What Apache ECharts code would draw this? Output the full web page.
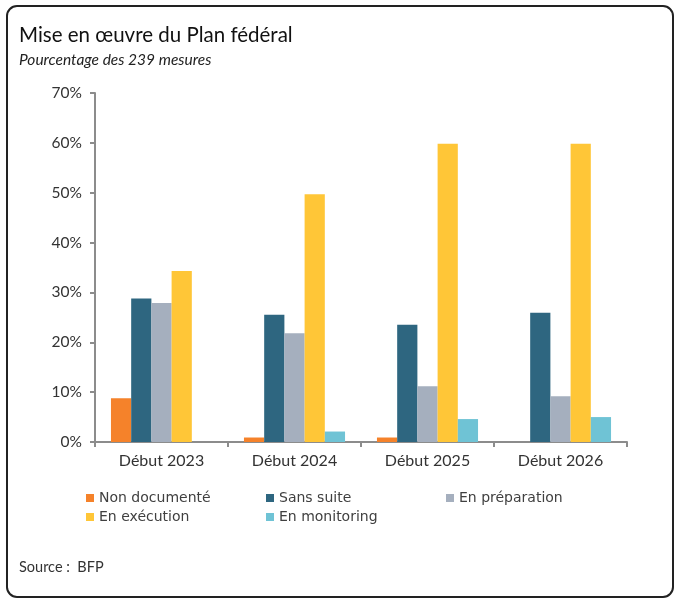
<!DOCTYPE html>
<html>
<head>
<meta charset="utf-8">
<script src="https://cdn.jsdelivr.net/npm/echarts@6/dist/echarts.min.js"></script>
<style>
html, body { margin: 0; padding: 0; background: #fff; }
#main { width: 680px; height: 601px; }
</style>
</head>
<body>
<div id="main"></div>
<script>
var categories = ['Début 2023', 'Début 2024', 'Début 2025', 'Début 2026'];
var nonDocumente = [8.8, 0.9, 0.9, 0];
var sansSuite = [28.8, 25.5, 23.5, 25.9];
var enPreparation = [27.9, 21.8, 11.2, 9.2];
var enExecution = [34.3, 49.7, 59.8, 59.8];
var enMonitoring = [0, 2.1, 4.6, 5.0];
var yTicks = [0, 10, 20, 30, 40, 50, 60, 70];

var myChart = echarts.init(document.getElementById('main'));
var font = 'Lato, "Open Sans", sans-serif';
var legendText = { color: '#404040', fontSize: 14, fontFamily: '"DejaVu Sans", sans-serif' };

function bar(name, data, color) {
    return {
        name: name,
        type: 'bar',
        data: data,
        itemStyle: { color: color },
        barGap: '0%',
        barCategoryGap: '24%'
    };
}

var option = {
    animation: false,
    title: [{
        text: 'Mise en œuvre du Plan fédéral',
        left: 14, top: 20,
        textStyle: { fontFamily: font, fontSize: 20.5, fontWeight: 'normal', color: '#111' }
    }, {
        text: 'Pourcentage des 239 mesures',
        left: 14, top: 47,
        textStyle: { fontFamily: font, fontSize: 15.5, fontStyle: 'italic', fontWeight: 'normal', color: '#222' }
    }, {
        text: 'Source :  BFP',
        left: 14, top: 555,
        textStyle: { fontFamily: font, fontSize: 14.5, fontWeight: 'normal', color: '#333' }
    }],
    graphic: [{
        type: 'rect',
        shape: { x: 7, y: 6, width: 666, height: 591, r: 10 },
        style: { fill: 'none', stroke: '#222', lineWidth: 2 },
        z: -1
    }],
    legend: [{
        orient: 'vertical', left: 81, top: 486, itemGap: 5,
        itemWidth: 8, itemHeight: 8, icon: 'rect',
        textStyle: legendText,
        data: ['Non documenté', 'En exécution']
    }, {
        orient: 'vertical', left: 261, top: 486, itemGap: 5,
        itemWidth: 8, itemHeight: 8, icon: 'rect',
        textStyle: legendText,
        data: ['Sans suite', 'En monitoring']
    }, {
        orient: 'vertical', left: 441, top: 486, itemGap: 5,
        itemWidth: 8, itemHeight: 8, icon: 'rect',
        textStyle: legendText,
        data: ['En préparation']
    }],
    grid: { left: 95, right: 53, top: 93, bottom: 159 },
    xAxis: {
        type: 'category',
        data: categories,
        axisLine: { lineStyle: { color: '#8c8c8c', width: 2 } },
        axisTick: { show: true, length: 5, lineStyle: { color: '#8c8c8c', width: 2 } },
        axisLabel: { color: '#333', fontSize: 16, fontFamily: font, margin: 11 }
    },
    yAxis: {
        type: 'value',
        min: yTicks[0],
        max: yTicks[yTicks.length - 1],
        interval: 10,
        splitLine: { show: false },
        axisLine: { show: true, lineStyle: { color: '#8c8c8c', width: 2 } },
        axisTick: { show: true, length: 5, lineStyle: { color: '#8c8c8c', width: 2 } },
        axisLabel: { color: '#333', fontSize: 15.5, fontFamily: font, margin: 13, formatter: '{value}%' }
    },
    series: [
        bar('Non documenté', nonDocumente, '#F5822A'),
        bar('Sans suite', sansSuite, '#2E6680'),
        bar('En préparation', enPreparation, '#A5AFBE'),
        bar('En exécution', enExecution, '#FFC637'),
        bar('En monitoring', enMonitoring, '#6FC3D5')
    ]
};

myChart.setOption(option);
</script>
</body>
</html>
